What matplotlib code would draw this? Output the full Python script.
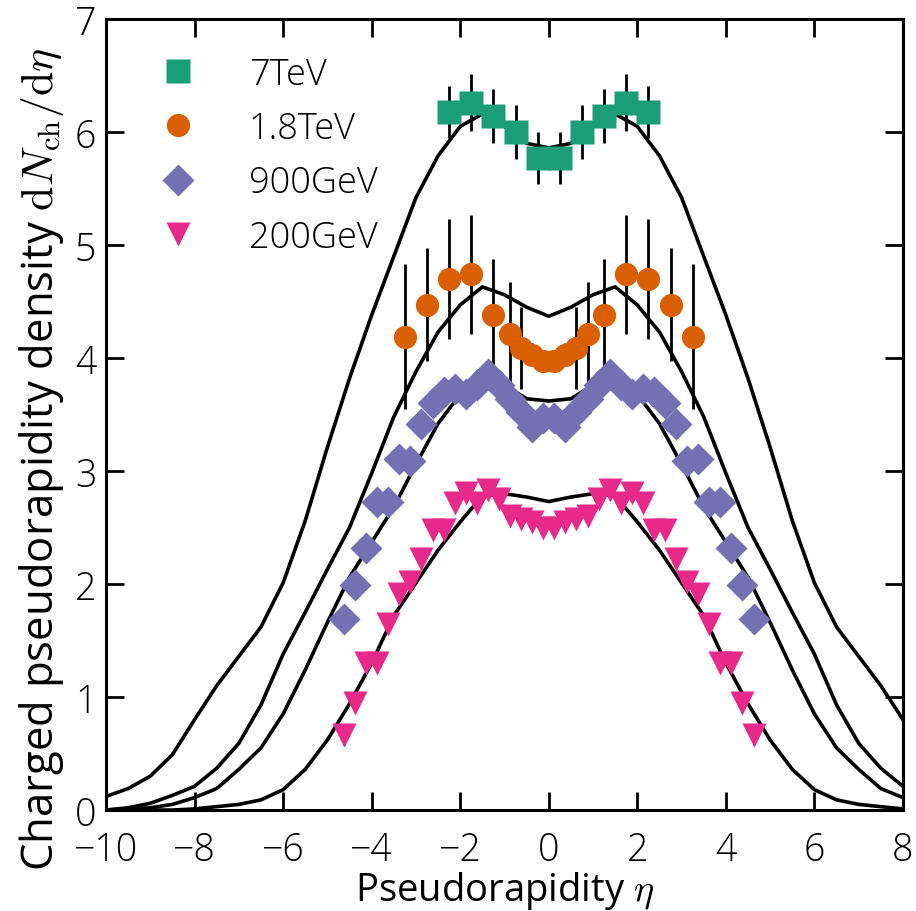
import numpy as np
import matplotlib
matplotlib.use("Agg")
import matplotlib.pyplot as plt
from matplotlib.lines import Line2D

plt.rcParams["font.family"] = ["Open Sans", "DejaVu Sans"]
plt.rcParams["font.weight"] = "light"
plt.rcParams["mathtext.fontset"] = "cm"

# --- measured data points -------------------------------------------------
eta_7tev = [-2.25, -1.75, -1.25, -0.75, -0.25, 0.25, 0.75, 1.25, 1.75, 2.25]
dn_7tev = [6.18, 6.26, 6.14, 6.00, 5.77, 5.77, 6.00, 6.14, 6.26, 6.18]
err_7tev = [0.23, 0.25, 0.24, 0.24, 0.23, 0.23, 0.24, 0.24, 0.25, 0.23]

eta_1800 = [-3.25, -2.75, -2.25, -1.75, -1.25, -0.875, -0.625, -0.375, -0.125,
            0.125, 0.375, 0.625, 0.875, 1.25, 1.75, 2.25, 2.75, 3.25]
dn_1800 = [4.19, 4.47, 4.70, 4.74, 4.38, 4.21, 4.09, 4.03, 3.97,
           3.97, 4.03, 4.09, 4.21, 4.38, 4.74, 4.70, 4.47, 4.19]
err_1800 = [0.64, 0.50, 0.53, 0.53, 0.50, 0.46, 0.36, 0.10, 0.05,
            0.05, 0.10, 0.36, 0.46, 0.50, 0.53, 0.53, 0.50, 0.64]

eta_900 = [-4.625, -4.375, -4.125, -3.875, -3.625, -3.375, -3.125, -2.875, -2.625,
           -2.375, -2.125, -1.875, -1.625, -1.375, -1.125, -0.875, -0.625, -0.375,
           -0.125, 0.125, 0.375, 0.625, 0.875, 1.125, 1.375, 1.625, 1.875, 2.125,
           2.375, 2.625, 2.875, 3.125, 3.375, 3.625, 3.875, 4.125, 4.375, 4.625]
dn_900 = [1.69, 1.99, 2.32, 2.73, 2.73, 3.11, 3.09, 3.42, 3.60,
          3.70, 3.73, 3.68, 3.76, 3.86, 3.76, 3.64, 3.52, 3.39,
          3.47, 3.47, 3.39, 3.52, 3.64, 3.76, 3.86, 3.76, 3.68, 3.73,
          3.70, 3.60, 3.42, 3.09, 3.11, 2.73, 2.73, 2.32, 1.99, 1.69]

eta_200 = [-4.625, -4.375, -4.125, -3.875, -3.625, -3.375, -3.125, -2.875, -2.625,
           -2.375, -2.125, -1.875, -1.625, -1.375, -1.125, -0.875, -0.625, -0.375,
           -0.125, 0.125, 0.375, 0.625, 0.875, 1.125, 1.375, 1.625, 1.875, 2.125,
           2.375, 2.625, 2.875, 3.125, 3.375, 3.625, 3.875, 4.125, 4.375, 4.625]
dn_200 = [0.66, 0.95, 1.30, 1.30, 1.65, 1.91, 2.02, 2.22, 2.48,
          2.48, 2.72, 2.81, 2.72, 2.83, 2.75, 2.60, 2.58, 2.55,
          2.50, 2.50, 2.55, 2.58, 2.60, 2.75, 2.83, 2.72, 2.81, 2.72,
          2.48, 2.48, 2.22, 2.02, 1.91, 1.65, 1.30, 1.30, 0.95, 0.66]
err_200 = [0.08] + [0.0] * 36 + [0.08]

# --- model curves ---------------------------------------------------------
eta_model = [-10, -9.5, -9, -8.5, -8, -7.5, -7, -6.5, -6, -5.5, -5, -4.5, -4,
             -3.5, -3, -2.5, -2, -1.5, -1, -0.5, 0, 0.5, 1, 1.5, 2, 2.5, 3,
             3.5, 4, 4.5, 5, 5.5, 6, 6.5, 7, 7.5, 8, 8.5, 9, 9.5, 10]
model_7tev = [0.12, 0.19, 0.30, 0.49, 0.80, 1.10, 1.36, 1.62, 2.01, 2.56, 3.21,
              3.82, 4.38, 4.90, 5.42, 5.79, 6.05, 6.16, 6.05, 5.90, 5.86, 5.90,
              6.05, 6.16, 6.05, 5.79, 5.42, 4.90, 4.38, 3.82, 3.21, 2.56, 2.01,
              1.62, 1.36, 1.10, 0.80, 0.49, 0.30, 0.19, 0.12]
model_1800 = [0.0, 0.02, 0.06, 0.13, 0.21, 0.37, 0.59, 0.93, 1.38, 1.75, 2.13,
              2.50, 2.98, 3.48, 3.88, 4.23, 4.47, 4.63, 4.56, 4.45, 4.37, 4.45,
              4.56, 4.63, 4.47, 4.23, 3.88, 3.48, 2.98, 2.50, 2.13, 1.75, 1.38,
              0.93, 0.59, 0.37, 0.21, 0.13, 0.06, 0.02, 0.0]
model_900 = [0.0, 0.01, 0.02, 0.05, 0.11, 0.19, 0.36, 0.55, 0.85, 1.24, 1.66,
             2.06, 2.37, 2.68, 3.06, 3.42, 3.68, 3.80, 3.76, 3.64, 3.62, 3.64,
             3.76, 3.80, 3.68, 3.42, 3.06, 2.68, 2.37, 2.06, 1.66, 1.24, 0.85,
             0.55, 0.36, 0.19, 0.11, 0.05, 0.02, 0.01, 0.0]
model_200 = [0.0, 0.0, 0.0, 0.0, 0.01, 0.03, 0.05, 0.09, 0.18, 0.36, 0.62,
             0.94, 1.30, 1.72, 2.01, 2.30, 2.55, 2.78, 2.80, 2.77, 2.73, 2.77,
             2.80, 2.78, 2.55, 2.30, 2.01, 1.72, 1.30, 0.94, 0.62, 0.36, 0.18,
             0.09, 0.05, 0.03, 0.01, 0.0, 0.0, 0.0, 0.0]

labels = ["7TeV", "1.8TeV", "900GeV", "200GeV"]
colors = ["#1b9e77", "#d95f02", "#7570b3", "#e7298a"]
markers = ["s", "o", "D", "v"]

fig = plt.figure(figsize=(9.16, 9.12), dpi=100)
ax = fig.add_axes([0.1157, 0.1107, 0.8701, 0.8673])

for curve in (model_7tev, model_1800, model_900, model_200):
    ax.plot(eta_model, curve, color="black", lw=2.6, zorder=2)

ms = 16.7
ax.errorbar(eta_7tev, dn_7tev, yerr=err_7tev, fmt=markers[0], color=colors[0],
            ms=ms, mec="none", ecolor="black", elinewidth=2, capsize=0, zorder=3)
ax.errorbar(eta_1800, dn_1800, yerr=err_1800, fmt=markers[1], color=colors[1],
            ms=ms, mec="none", ecolor="black", elinewidth=2, capsize=0, zorder=3)
ax.plot(eta_900, dn_900, ls="none", marker=markers[2], color=colors[2],
        ms=ms, mec="none", zorder=3)
ax.errorbar(eta_200, dn_200, yerr=err_200, fmt=markers[3], color=colors[3],
            ms=ms, mec="none", ecolor="black", elinewidth=2, capsize=0, zorder=3)

ax.set_xlim(-10, 8)
ax.set_ylim(0, 7)
ax.set_xticks(np.arange(-10, 9, 2))
ax.set_yticks(np.arange(0, 8, 1))
ax.tick_params(direction="in", length=13, width=2, top=True, right=True,
               labelsize=27)
ax.tick_params(axis="x", pad=15)
ax.tick_params(axis="y", pad=7)
for sp in ax.spines.values():
    sp.set_linewidth(2.2)

ax.set_xlabel(r"Pseudorapidity $\eta$", fontsize=27.5)
ax.xaxis.set_label_coords(0.5, -0.074)
ax.set_ylabel(r"Charged pseudorapidity density $\mathrm{d}N_{\mathrm{ch}}/\mathrm{d}\eta$",
              fontsize=31.5)
ax.yaxis.set_label_coords(-0.05, 0.445)

handles = [Line2D([], [], ls="none", marker=m, color=c, ms=ms, mec="none")
           for m, c in zip(markers, colors)]
ax.legend(handles, labels, loc="upper left", bbox_to_anchor=(0.05, 0.972),
          frameon=False, fontsize=26, handlelength=1.0, handletextpad=1.45,
          labelspacing=0.48, borderaxespad=0)

fig.savefig("out.png", dpi=100)
